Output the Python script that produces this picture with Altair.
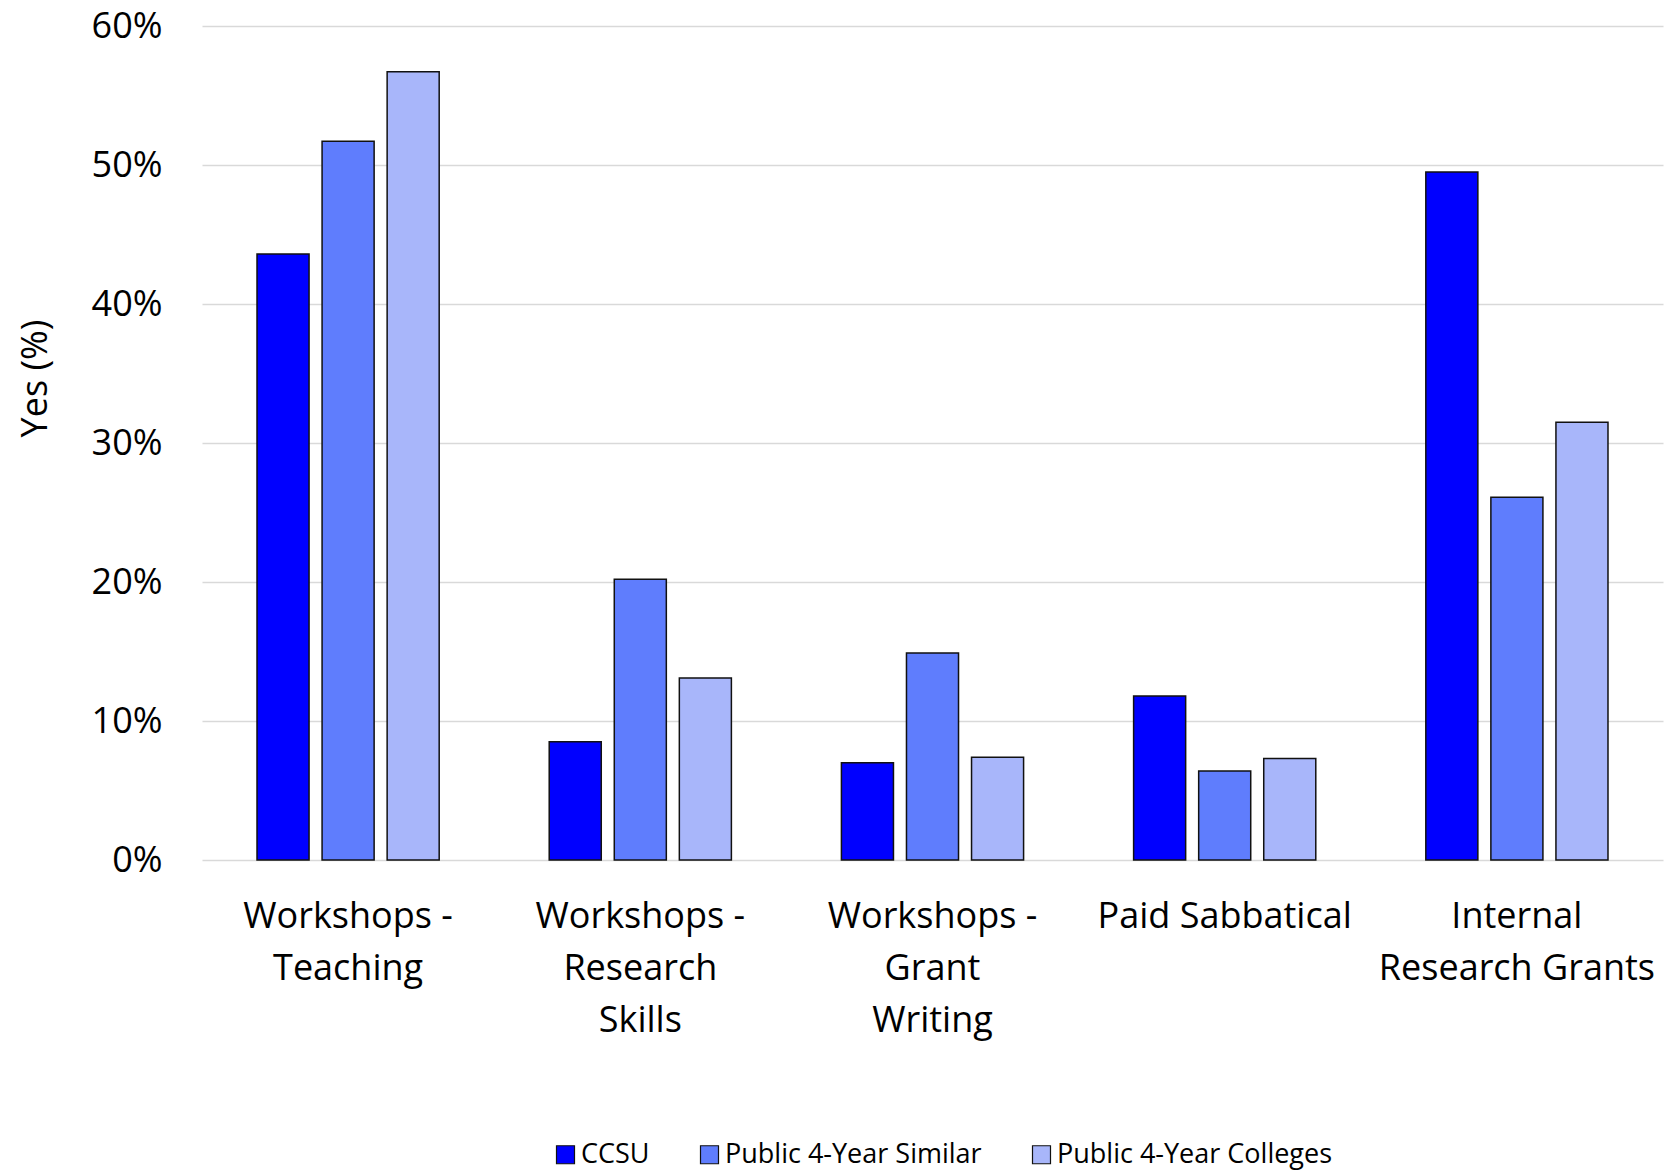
import altair as alt
import pandas as pd

# Survey categories (label lines joined with "|", split again on the axis)
categories = [
    "Workshops -|Teaching",
    "Workshops -|Research|Skills",
    "Workshops -|Grant|Writing",
    "Paid Sabbatical",
    "Internal|Research Grants",
]
series = ["CCSU", "Public 4-Year Similar", "Public 4-Year Colleges"]
colors = ["#0000FF", "#5F7DFD", "#A8B6FA"]

# Share answering "Yes", per series
ccsu = [0.436, 0.085, 0.070, 0.118, 0.495]
similar = [0.517, 0.202, 0.149, 0.064, 0.261]
colleges = [0.567, 0.131, 0.074, 0.073, 0.315]

rows = []
for name, vals in zip(series, [ccsu, similar, colleges]):
    for cat, v in zip(categories, vals):
        rows.append({"category": cat, "series": name, "value": v})
df = pd.DataFrame(rows)

FONT = "Open Sans"

chart = (
    alt.Chart(df)
    .mark_bar(stroke="#111111", strokeWidth=1.5)
    .encode(
        x=alt.X(
            "category:N",
            sort=categories,
            scale=alt.Scale(paddingInner=0.332, paddingOuter=0.166),
            axis=alt.Axis(
                title=None,
                labelAngle=0,
                labelExpr="split(datum.label, '|')",
                labelFont=FONT,
                labelFontSize=36,
                labelColor="black",
                labelLineHeight=52,
                labelPadding=39,
                labelBaseline="top",
                labelLimit=0,
                ticks=False,
                tickSize=0,
                domain=False,
                grid=False,
            ),
        ),
        xOffset=alt.XOffset(
            "series:N",
            sort=series,
            scale=alt.Scale(paddingInner=0.2, paddingOuter=0.1),
        ),
        y=alt.Y(
            "value:Q",
            scale=alt.Scale(domain=[0, 0.6], nice=False),
            axis=alt.Axis(
                title="Yes (%)",
                format=".0%",
                values=[0, 0.1, 0.2, 0.3, 0.4, 0.5, 0.6],
                labelFont=FONT,
                labelFontSize=36,
                labelColor="black",
                labelPadding=40,
                ticks=False,
                tickSize=0,
                domain=False,
                grid=True,
                gridColor="#D9D9D9",
                gridWidth=1.5,
                titleFont=FONT,
                titleFontSize=36,
                titleFontWeight="normal",
                titleColor="black",
                titleAngle=-90,
                titleAlign="center",
                titleBaseline="alphabetic",
                titleX=-156,
                titleY=352,
            ),
        ),
        color=alt.Color(
            "series:N",
            sort=series,
            scale=alt.Scale(domain=series, range=colors),
            legend=alt.Legend(
                title=None,
                orient="none",
                direction="horizontal",
                legendX=350,
                legendY=1115,
                padding=0,
                symbolType="square",
                symbolSize=324,
                symbolStrokeColor="#111111",
                symbolStrokeWidth=1.2,
                symbolOpacity=1,
                labelFont=FONT,
                labelFontSize=27,
                labelColor="black",
                labelOffset=2,
                labelLimit=0,
                columnPadding=46,
                columns=3,
            ),
        ),
    )
    .properties(
        width=1461,
        height=834,
        background="white",
        autosize=alt.AutoSizeParams(type="none"),
        padding={"left": 202, "top": 26, "right": 5, "bottom": 311},
    )
    .configure_view(strokeWidth=0, stroke=None)
)

chart.save("out.html", embed_options={"renderer": "svg", "actions": False})
